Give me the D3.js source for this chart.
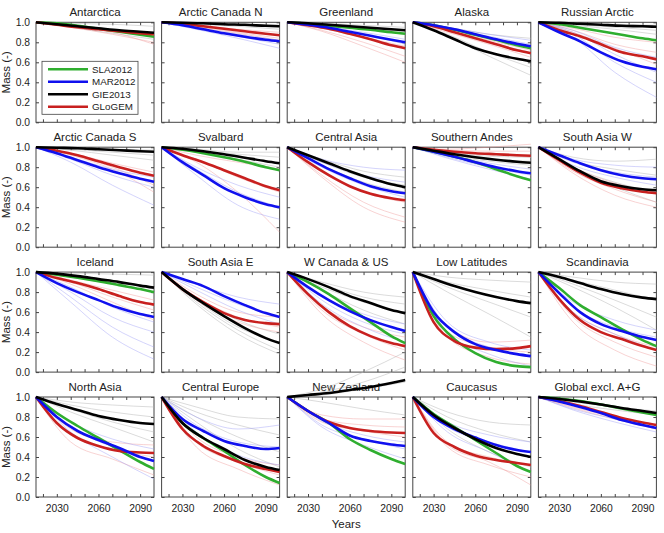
<!DOCTYPE html>
<html>
<head>
<meta charset="utf-8">
<script src="https://cdn.jsdelivr.net/npm/d3@7"></script>
<style>
  body { margin: 0; background: #fff; }
  svg { display: block; }
  text { font-family: "Liberation Sans", Arial, Helvetica, sans-serif; fill: #222; }
</style>
</head>
<body>
<div id="chart"></div>
<script>
// Region names, row by row
const regions = [
  "Antarctica", "Arctic Canada N", "Greenland", "Alaska", "Russian Arctic",
  "Arctic Canada S", "Svalbard", "Central Asia", "Southern Andes", "South Asia W",
  "Iceland", "South Asia E", "W Canada & US", "Low Latitudes", "Scandinavia",
  "North Asia", "Central Europe", "New Zealand", "Caucasus", "Global excl. A+G"
];

// Years at which the model means are read
const years = [2015, 2030, 2045, 2060, 2075, 2090, 2100];

// Mean normalised mass per model (null = model not shown for that region)
const sla2012 = [
  [1, .99, .965, .935, .905, .875, .855], null,
  [1, .985, .965, .945, .925, .90, .885], [1, .97, .925, .875, .825, .77, .74],
  [1, .98, .945, .91, .875, .84, .82],
  null, [1, .975, .94, .90, .855, .80, .77], null,
  [1, .955, .905, .85, .78, .71, .67], null,
  [1, .975, .945, .91, .87, .83, .80], null,
  [1, .90, .78, .64, .50, .36, .29], [1, .56, .33, .19, .10, .06, .05],
  [1, .84, .67, .55, .43, .32, .26],
  [1, .84, .71, .59, .47, .35, .28], [1, .74, .59, .46, .32, .20, .14],
  [1, .86, .74, .58, .47, .38, .33], [1, .83, .70, .57, .44, .31, .25],
  [1, .985, .96, .925, .885, .845, .82]
];
const mar2012 = [
  null, [1, .97, .93, .89, .855, .825, .81],
  [1, .975, .945, .905, .865, .825, .80], [1, .97, .93, .88, .83, .785, .76],
  [1, .90, .81, .70, .61, .555, .53],
  [1, .94, .87, .80, .74, .685, .655], [1, .85, .72, .59, .50, .43, .40],
  [1, .89, .78, .69, .61, .56, .54], [1, .955, .905, .85, .80, .76, .74],
  [1, .92, .84, .77, .72, .69, .68],
  [1, .89, .80, .72, .64, .58, .55], [1, .93, .86, .76, .67, .59, .55],
  [1, .85, .72, .61, .52, .45, .41], [1, .60, .40, .28, .22, .18, .16],
  [1, .79, .60, .48, .41, .35, .32],
  [1, .80, .66, .57, .49, .40, .36], [1, .78, .66, .56, .51, .48, .49],
  [1, .86, .74, .615, .56, .525, .51], [1, .80, .68, .595, .52, .47, .45],
  [1, .955, .90, .84, .77, .72, .69]
];
const gie2013 = [
  [1, .98, .96, .94, .92, .905, .895], [1, .995, .99, .98, .975, .965, .96],
  [1, .99, .975, .96, .945, .93, .92], [1, .92, .83, .74, .68, .635, .61],
  [1, .995, .985, .975, .965, .96, .955],
  [1, .995, .99, .98, .97, .96, .955], [1, .985, .96, .93, .895, .86, .84],
  [1, .92, .84, .76, .69, .63, .60], [1, .965, .93, .90, .875, .855, .845],
  [1, .88, .76, .66, .61, .58, .57],
  [1, .985, .96, .93, .90, .865, .845], [1, .83, .69, .56, .44, .34, .29],
  [1, .93, .85, .76, .69, .62, .59], [1, .93, .86, .80, .75, .71, .69],
  [1, .95, .89, .83, .78, .745, .73],
  [1, .93, .87, .81, .77, .74, .73], [1, .74, .59, .48, .37, .30, .27],
  [1, 1.02, 1.04, 1.07, 1.10, 1.14, 1.17], [1, .82, .69, .58, .49, .43, .40],
  [1, .98, .955, .925, .89, .86, .84]
];
const glogem = [
  [1, .975, .95, .93, .91, .89, .88], [1, .985, .96, .935, .91, .885, .87],
  [1, .97, .935, .885, .83, .77, .74], [1, .96, .90, .84, .78, .72, .69],
  [1, .92, .86, .78, .70, .66, .63],
  [1, .965, .92, .86, .80, .745, .715], [1, .92, .85, .77, .69, .61, .57],
  [1, .85, .72, .61, .535, .49, .47], [1, .975, .955, .94, .93, .92, .915],
  [1, .87, .745, .645, .59, .555, .54],
  [1, .94, .89, .83, .76, .70, .675], [1, .83, .70, .59, .52, .49, .48],
  [1, .78, .60, .46, .36, .29, .26], [1, .50, .31, .245, .23, .24, .26],
  [1, .73, .52, .40, .33, .26, .22],
  [1, .74, .59, .51, .46, .445, .44], [1, .68, .51, .41, .33, .28, .25],
  [1, .86, .75, .69, .66, .645, .64], [1, .64, .50, .415, .37, .34, .32],
  [1, .96, .91, .85, .79, .745, .72]
];

// Individual runs (faint lines), read at these years
const runYears = [2015, 2040, 2070, 2100];
const gieRuns = [
  [[1,.99,.98,.96],[1,.97,.93,.89],[1,.95,.89,.83]],
  [[1,.99,.98,.97],[1,.99,.97,.95],[1,.98,.96,.93]],
  [[1,.99,.97,.95],[1,.98,.95,.90],[1,.97,.93,.88]],
  [[1,.88,.70,.55],[1,.86,.66,.47],[1,.92,.80,.70],[1,.95,.88,.84]],
  [[1,.99,.98,.97],[1,.98,.95,.92],[1,.97,.93,.88]],
  [[1,.99,.98,.97],[1,.98,.95,.92],[1,.97,.92,.87]],
  [[1,.97,.93,.90],[1,.96,.88,.80],[1,.98,.95,.95]],
  [[1,.88,.76,.70],[1,.85,.70,.62],[1,.82,.65,.55]],
  [[1,.93,.88,.86],[1,.92,.86,.82],[1,.95,.91,.90]],
  [[1,.80,.65,.55],[1,.78,.60,.45],[1,.86,.78,.72],[1,.90,.86,.88]],
  [[1,.99,.98,.97],[1,.96,.91,.85],[1,.95,.88,.80]],
  [[1,.72,.45,.30],[1,.68,.38,.18],[1,.75,.52,.38],[1,.70,.42,.22]],
  [[1,.88,.75,.68],[1,.82,.62,.48],[1,.85,.70,.58],[1,.90,.80,.75]],
  [[1,.90,.82,.75],[1,.85,.70,.55],[1,.80,.58,.35],[1,.95,.92,.90]],
  [[1,.92,.82,.72],[1,.88,.72,.55],[1,.95,.90,.88],[1,.85,.65,.42]],
  [[1,.92,.85,.80],[1,.95,.92,.90],[1,.85,.70,.55],[1,.88,.75,.65]],
  [[1,.80,.60,.45],[1,.85,.72,.62],[1,.90,.80,.78],[1,.75,.48,.30]],
  [[1,1.05,1.15,1.30],[1,1.08,1.25,1.45],[1,1.02,1.08,1.15],[1,.95,.88,.82]],
  [[1,.80,.65,.55],[1,.85,.75,.72],[1,.72,.52,.40],[1,.68,.45,.30]],
  [[1,.95,.90,.86],[1,.93,.87,.82]]
];
const marRuns = [
  [],
  [[1,.94,.86,.78],[1,.93,.84,.74],[1,.95,.88,.82]],
  [[1,.95,.88,.78],[1,.94,.85,.74],[1,.96,.90,.83]],
  [[1,.95,.88,.82],[1,.94,.86,.78]],
  [[1,.88,.60,.40],[1,.85,.50,.25],[1,.92,.75,.65],[1,.90,.68,.50]],
  [[1,.88,.72,.60],[1,.85,.62,.42],[1,.90,.78,.70]],
  [[1,.78,.55,.40],[1,.72,.42,.28],[1,.80,.62,.50]],
  [[1,.85,.72,.65],[1,.88,.80,.77],[1,.80,.62,.50]],
  [[1,.90,.80,.72],[1,.89,.78,.68],[1,.92,.84,.78]],
  [[1,.85,.75,.70],[1,.88,.82,.80],[1,.82,.70,.62]],
  [[1,.75,.45,.25],[1,.70,.35,.13],[1,.80,.55,.40],[1,.85,.65,.50]],
  [[1,.85,.68,.55],[1,.88,.75,.68],[1,.82,.62,.48]],
  [[1,.72,.50,.38],[1,.76,.58,.48],[1,.68,.45,.30]],
  [[1,.45,.25,.15],[1,.50,.30,.22],[1,.40,.18,.06]],
  [[1,.65,.45,.35],[1,.60,.38,.22],[1,.70,.52,.42]],
  [[1,.70,.50,.35],[1,.65,.40,.18],[1,.75,.58,.48]],
  [[1,.72,.55,.50],[1,.80,.68,.72],[1,.65,.42,.32]],
  [[1,.72,.58,.48],[1,.70,.52,.38],[1,.76,.62,.55]],
  [[1,.70,.55,.45],[1,.65,.45,.25],[1,.75,.62,.55]],
  [[1,.88,.78,.68],[1,.87,.75,.65]]
];
const glogemRuns = [
  [[1,.97,.92,.86],[1,.95,.88,.80],[1,.96,.90,.78]],
  [[1,.97,.93,.90],[1,.96,.90,.84],[1,.95,.89,.82]],
  [[1,.94,.85,.76],[1,.92,.80,.66],[1,.91,.76,.60]],
  [[1,.92,.82,.72],[1,.90,.78,.65]],
  [[1,.92,.78,.70],[1,.90,.74,.58],[1,.94,.85,.80]],
  [[1,.94,.84,.75],[1,.93,.80,.62],[1,.92,.78,.55]],
  [[1,.88,.70,.55],[1,.85,.55,.15],[1,.92,.85,.78]],
  [[1,.75,.55,.45],[1,.72,.45,.30],[1,.70,.40,.25]],
  [[1,.97,.96,.96],[1,.96,.93,.90],[1,.98,1.0,1.03]],
  [[1,.76,.58,.45],[1,.74,.52,.40],[1,.80,.64,.55]],
  [[1,.90,.75,.62],[1,.88,.70,.52],[1,.92,.82,.72]],
  [[1,.75,.55,.45],[1,.72,.50,.40],[1,.78,.60,.55]],
  [[1,.62,.38,.22],[1,.58,.30,.12],[1,.66,.45,.35]],
  [[1,.40,.25,.20],[1,.35,.15,.08],[1,.45,.30,.32]],
  [[1,.55,.30,.15],[1,.50,.22,.06],[1,.60,.38,.25]],
  [[1,.62,.48,.40],[1,.55,.38,.22],[1,.68,.55,.52]],
  [[1,.55,.35,.22],[1,.50,.28,.12],[1,.60,.40,.32]],
  [[1,.78,.72,.70],[1,.75,.66,.60],[1,.82,.78,.78]],
  [[1,.55,.40,.32],[1,.50,.32,.20],[1,.52,.35,.12]],
  [[1,.90,.80,.72],[1,.89,.78,.68]]
];

// Axis ticks
const xTicks = [2020, 2030, 2040, 2050, 2060, 2070, 2080, 2090];
const xTickLabels = [2030, 2060, 2090];
const yTicks = [0, 0.2, 0.4, 0.6, 0.8, 1.0];

// Legend entries
const legendNames = ["SLA2012", "MAR2012", "GIE2013", "GLoGEM"];
const legendColors = ["#2fae2f", "#1010ee", "#000000", "#c8201f"];

// Layout
const fullWidth = 664, fullHeight = 533;
const left0 = 36, top0 = 22.3;
const pw = 118, ph = 100, dx = 125.6, dy = 124.9;

const svg = d3.select("#chart").append("svg")
  .attr("width", fullWidth)
  .attr("height", fullHeight);

const x = d3.scaleLinear().domain([2015, 2100]).range([0, pw]);
const y = d3.scaleLinear().domain([0, 1]).range([ph, 0]);

const meanLine = d3.line()
  .x((d, i) => x(years[i]))
  .y(d => y(d))
  .curve(d3.curveMonotoneX);
const runLine = d3.line()
  .x((d, i) => x(runYears[i]))
  .y(d => y(d))
  .curve(d3.curveMonotoneX);

// faint runs, then thick means (draw order)
const runSets = [
  { runs: gieRuns, color: "#b4b4b4", opacity: 0.6 },
  { runs: glogemRuns, color: "#ee9a9a", opacity: 0.55 },
  { runs: marRuns, color: "#9d9df5", opacity: 0.55 }
];
const meanSets = [
  { data: sla2012, color: legendColors[0] },
  { data: glogem, color: legendColors[3] },
  { data: mar2012, color: legendColors[1] },
  { data: gie2013, color: legendColors[2] }
];

const panels = regions.map((name, i) => {
  const col = i % 5, row = Math.floor(i / 5);
  return { name, i, col, row, x0: left0 + col * dx, y0: top0 + row * dy };
});

// frames and axes first so that lines can overflow over neighbours
panels.forEach(p => {
  const g = svg.append("g").attr("transform", `translate(${p.x0},${p.y0})`);

  g.append("rect")
    .attr("width", pw).attr("height", ph)
    .attr("fill", "#fff")
    .attr("stroke", "#444").attr("stroke-width", 1);

  const yl = g.append("g").call(d3.axisLeft(y).tickValues(yTicks).tickSize(-3).tickPadding(6)
    .tickFormat(p.col === 0 ? d3.format(".1f") : () => ""));
  const yr = g.append("g").attr("transform", `translate(${pw},0)`)
    .call(d3.axisRight(y).tickValues(yTicks).tickSize(-3).tickFormat(() => ""));
  const xb = g.append("g").attr("transform", `translate(0,${ph})`)
    .call(d3.axisBottom(x).tickValues(xTicks).tickSize(-3).tickPadding(8)
      .tickFormat(d => (p.row === 3 && xTickLabels.includes(d)) ? d : ""));
  const xt = g.append("g")
    .call(d3.axisTop(x).tickValues(xTicks).tickSize(-3).tickFormat(() => ""));

  [yl, yr, xb, xt].forEach(a => {
    a.select(".domain").remove();
    a.selectAll("line").attr("stroke", "#444");
    a.selectAll("text").attr("font-size", 10.3).attr("fill", "#333")
      .attr("font-family", "Liberation Sans, Arial, sans-serif");
  });

  g.append("text")
    .attr("x", pw / 2).attr("y", -6)
    .attr("text-anchor", "middle")
    .attr("font-size", 11.5)
    .text(p.name);
});

panels.forEach(p => {
  const g = svg.append("g").attr("transform", `translate(${p.x0},${p.y0})`);

  runSets.forEach(s => {
    g.selectAll(null)
      .data(s.runs[p.i])
      .enter()
      .append("path")
      .attr("d", runLine)
      .attr("fill", "none")
      .attr("stroke", s.color)
      .attr("stroke-opacity", s.opacity)
      .attr("stroke-width", 0.8);
  });

  meanSets.forEach(s => {
    const v = s.data[p.i];
    if (!v) return;
    g.append("path")
      .attr("d", meanLine(v))
      .attr("fill", "none")
      .attr("stroke", s.color)
      .attr("stroke-width", 2.6)
      .attr("stroke-linejoin", "round");
  });
});

// Legend inside the first panel
const leg = svg.append("g").attr("transform", `translate(${left0 + 6},${top0 + 39})`);
leg.append("rect")
  .attr("width", 96).attr("height", 53)
  .attr("fill", "#fff").attr("stroke", "#444").attr("stroke-width", 0.8);
legendNames.forEach((n, k) => {
  const ly = 8 + k * 12.5;
  leg.append("line")
    .attr("x1", 6).attr("x2", 46).attr("y1", ly).attr("y2", ly)
    .attr("stroke", legendColors[k]).attr("stroke-width", 2.6);
  leg.append("text")
    .attr("x", 50).attr("y", ly + 3.5)
    .attr("font-size", 9.8)
    .text(n);
});

// Shared axis titles
for (let r = 0; r < 4; r++) {
  svg.append("text")
    .attr("transform", `translate(10,${top0 + r * dy + ph / 2}) rotate(-90)`)
    .attr("text-anchor", "middle")
    .attr("font-size", 11.5)
    .text("Mass (-)");
}
svg.append("text")
  .attr("x", left0 + (4 * dx + pw) / 2)
  .attr("y", 528)
  .attr("text-anchor", "middle")
  .attr("font-size", 11.5)
  .text("Years");
</script>
</body>
</html>
